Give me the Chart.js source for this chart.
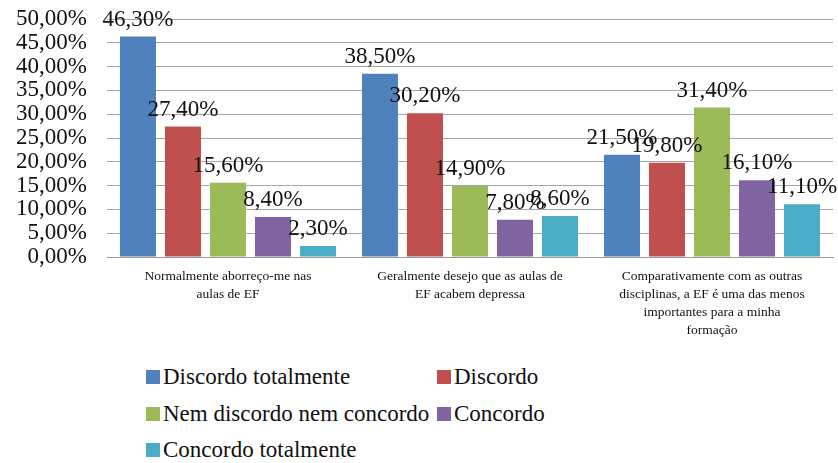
<!DOCTYPE html>
<html>
<head>
<meta charset="utf-8">
<script src="https://cdn.jsdelivr.net/npm/chart.js@4"></script>
<style>
  body { margin: 0; background: #fff; }
  #wrap { position: relative; width: 838px; height: 463px; }
  #chart { position: absolute; left: 0; top: 0; }
  #legend {
    position: absolute; left: 146px; top: 364px;
    display: grid; grid-template-columns: 291px 220px; row-gap: 10.5px;
    font-family: 'Liberation Serif', 'Times New Roman', serif; font-size: 23px; color: #111;
  }
  #legend div { display: flex; align-items: center; height: 26px; white-space: nowrap; }
  #legend span.box { width: 14px; height: 14px; margin-right: 3px; display: inline-block; }
</style>
</head>
<body>
<div id="wrap">
  <canvas id="chart" width="838" height="350"></canvas>
  <div id="legend"></div>
</div>
<script>
/* DATA */
const categories = [
  ["Normalmente aborreço-me nas", "aulas de EF"],
  ["Geralmente desejo que as aulas de", "EF acabem depressa"],
  ["Comparativamente com as outras", "disciplinas, a EF é uma das menos", "importantes para a minha", "formação"],
];
const seriesNames = ["Discordo totalmente", "Discordo", "Nem discordo nem concordo", "Concordo", "Concordo totalmente"];
const discordoTotalmente = [46.3, 38.5, 21.5];
const discordo = [27.4, 30.2, 19.8];
const nemNem = [15.6, 14.9, 31.4];
const concordo = [8.4, 7.8, 16.1];
const concordoTotalmente = [2.3, 8.6, 11.1];
const colors = ["#4F81BD", "#C0504D", "#9BBB59", "#8064A2", "#4BACC6"];

const fmt = (v) => v.toFixed(2).replace(".", ",") + "%";
const serif = "'Liberation Serif', 'Times New Roman', serif";

/* DATA LABELS */
const barLabels = {
  id: "barLabels",
  afterDatasetsDraw(chart) {
    const ctx = chart.ctx;
    ctx.save();
    ctx.font = "23px " + serif;
    ctx.fillStyle = "#111";
    ctx.textAlign = "center";
    ctx.textBaseline = "alphabetic";
    chart.data.datasets.forEach((ds, i) => {
      chart.getDatasetMeta(i).data.forEach((bar, j) => {
        ctx.fillText(fmt(ds.data[j]), bar.x, bar.y - 11);
      });
    });
    ctx.restore();
  },
};

const values = [discordoTotalmente, discordo, nemNem, concordo, concordoTotalmente];

new Chart(document.getElementById("chart"), {
  type: "bar",
  data: {
    labels: categories,
    datasets: values.map((d, i) => ({
      label: seriesNames[i],
      data: d,
      backgroundColor: colors[i],
      categoryPercentage: 0.93,
      barPercentage: 0.8,
    })),
  },
  options: {
    responsive: false,
    animation: false,
    layout: { padding: { left: 16, right: 5, top: 19, bottom: 0 } },
    plugins: { legend: { display: false }, tooltip: { enabled: false } },
    scales: {
      x: {
        grid: { display: false, drawTicks: false },
        border: { color: "#999", width: 1 },
        afterFit: (s) => { s.height = 93; },
        ticks: {
          color: "#111",
          padding: 10,
          maxRotation: 0,
          autoSkip: false,
          font: { family: serif, size: 13.5, lineHeight: 1.35 },
        },
      },
      y: {
        min: 0,
        max: 50,
        grid: { color: "#a6a6a6", drawTicks: false },
        border: { display: false },
        afterFit: (s) => {
          s.width = 91;
          s.paddingTop = 0;
          s.paddingBottom = 0;
        },
        ticks: {
          stepSize: 5,
          autoSkip: false,
          padding: 20,
          color: "#111",
          font: { family: serif, size: 23 },
          callback: (v) => fmt(v),
        },
      },
    },
  },
  plugins: [barLabels],
});

/* LEGEND */
const legend = document.getElementById("legend");
seriesNames.forEach((name, i) => {
  const item = document.createElement("div");
  item.innerHTML = '<span class="box" style="background:' + colors[i] + '"></span>' + name;
  legend.appendChild(item);
});
</script>
</body>
</html>
